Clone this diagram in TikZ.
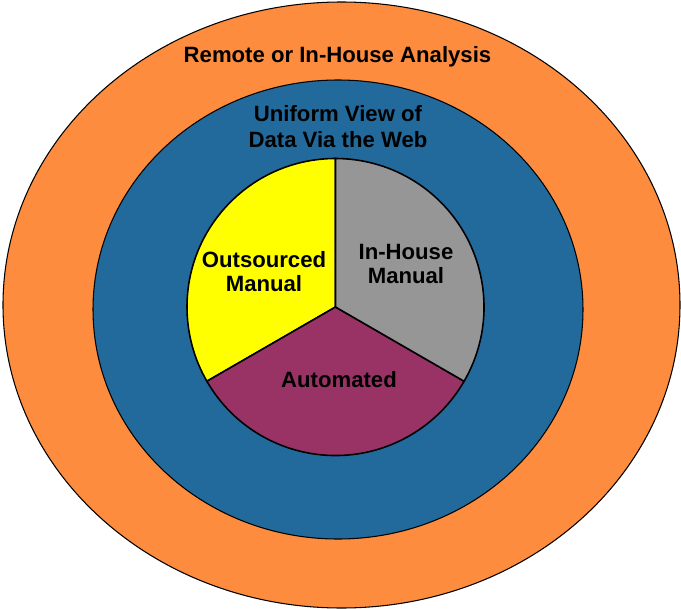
\documentclass[tikz,border=0pt]{standalone}
\usepackage{fontspec}
\setmainfont{Liberation Sans}
\usetikzlibrary{positioning}
\definecolor{ringorange}{RGB}{253,140,62}
\definecolor{ringblue}{RGB}{34,106,156}
\definecolor{pieyellow}{RGB}{255,255,0}
\definecolor{piegray}{RGB}{150,150,150}
\definecolor{piemaroon}{RGB}{153,51,102}
\begin{document}
\begin{tikzpicture}[
		ring/.style={draw=black,line width=0.6pt},
		wedge/.style={draw=black,line width=0.9pt},
		lbl/.style={font=\bfseries\fontsize{12.6}{13.6}\selectfont,align=center},
		toplbl/.style={font=\bfseries\fontsize{12.6}{14.5}\selectfont,align=center}
	]
			\useasboundingbox (0,0) rectangle (13.62,-12.18);
			
			% Rings
			\draw[ring,fill=ringorange] (6.83,-6.10) ellipse [x radius=6.77cm,y radius=6.06cm];
			\draw[ring,fill=ringblue] (6.76,-6.19) ellipse [x radius=4.90cm,y radius=4.59cm];
			
			% Pie
			\coordinate (c) at (6.71,-6.14);
			\draw[wedge,fill=pieyellow] (c) -- ++(90:2.97) arc (90:210:2.97) -- cycle;
			\draw[wedge,fill=piemaroon] (c) -- ++(210:2.97) arc (210:330:2.97) -- cycle;
			\draw[wedge,fill=piegray] (c) -- ++(330:2.97) arc (-30:90:2.97) -- cycle;
			
			% nodes
			\node[toplbl] (remote) at (6.75,-1.14) {Remote or In-House Analysis};
			\node[toplbl] (uniform) at (6.76,-2.53) {Uniform View of\\Data Via the Web};
			\node[lbl] (outsourced) at (5.28,-5.43) {Outsourced\\Manual};
			\node[lbl] (inhouse) at (8.12,-5.28) {In-House\\Manual};
			\node[lbl] (automated) at (6.78,-7.60) {Automated};
			
		\end{tikzpicture}
\end{document}
